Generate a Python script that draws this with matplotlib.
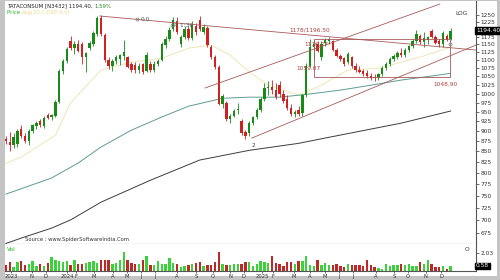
import matplotlib
matplotlib.use("Agg")
import matplotlib.pyplot as plt
from matplotlib.patches import Rectangle
from matplotlib.ticker import FixedLocator, NullLocator, FixedFormatter

# weekly candles, TATACONSUM
opens = [880, 872, 866, 868, 905, 888, 874, 900, 912, 925, 913, 942, 935,
         940, 978, 1066, 1098,
         1160, 1136, 1152, 1150, 1108, 1138,
         1152, 1185, 1238,
         1180, 1100, 1080, 1096, 1104, 1112, 1108, 1086, 1084, 1068, 1086, 1066, 1086, 1070, 1088,
         1100, 1146, 1166, 1200,
         1226, 1152, 1174, 1200, 1170, 1212, 1232, 1190, 1205,
         1142, 1110, 1078, 972,
         975, 930, 940, 955, 925, 898, 895, 920,
         935, 955, 985, 1015, 1020, 1010,
         1025, 1000, 985, 960, 945, 955,
         948, 995, 1082, 1140,
         1152, 1110, 1155, 1160, 1160,
         1132, 1112, 1105, 1092, 1108, 1082, 1070, 1066, 1060, 1052, 1048,
         1046, 1058, 1076, 1088, 1102, 1110, 1122, 1116, 1132, 1144,
         1160, 1178, 1156, 1162, 1195, 1172, 1160, 1150, 1176, 1168]
highs = [888, 897, 895, 904, 915, 895, 905, 918, 926, 930, 940, 948, 945,
         982, 1072, 1102, 1140,
         1178, 1160, 1162, 1158, 1126, 1160,
         1195, 1245, 1250,
         1186, 1110, 1102, 1116, 1118, 1162, 1112, 1092, 1094, 1090, 1090, 1126, 1096, 1096, 1102,
         1156, 1176, 1206, 1242,
         1240, 1180, 1212, 1212, 1226, 1222, 1246, 1216, 1210,
         1146, 1116, 1084, 1000,
         980, 945, 958, 975, 932, 902, 925, 940,
         960, 990, 1030, 1035, 1040, 1030,
         1035, 1010, 995, 970, 955, 965,
         1000, 1090, 1168, 1165,
         1160, 1160, 1170, 1175, 1165,
         1138, 1118, 1110, 1125, 1112, 1090, 1082, 1072, 1068, 1060, 1058,
         1060, 1080, 1094, 1110, 1118, 1128, 1136, 1138, 1148, 1168,
         1196, 1184, 1190, 1176, 1200, 1180, 1168, 1192, 1182, 1205]
lows = [868, 850, 858, 860, 882, 870, 866, 894, 905, 910, 908, 930, 928,
        935, 974, 1058, 1090,
        1132, 1118, 1124, 1088, 1062, 1130,
        1145, 1178, 1178,
        1092, 1072, 1066, 1088, 1085, 1100, 1074, 1064, 1060, 1060, 1056, 1062, 1064, 1064, 1080,
        1095, 1136, 1160, 1194,
        1184, 1140, 1168, 1164, 1165, 1180, 1192, 1182, 1140,
        1104, 1072, 968, 960,
        925, 920, 935, 945, 890, 880, 888, 915,
        930, 950, 980, 995, 1000, 985,
        990, 975, 955, 940, 935, 940,
        940, 990, 1078, 1100,
        1124, 1100, 1145, 1150, 1128,
        1108, 1098, 1082, 1088, 1076, 1064, 1060, 1052, 1044, 1040, 1036,
        1040, 1052, 1068, 1082, 1096, 1104, 1110, 1110, 1124, 1138,
        1154, 1150, 1140, 1152, 1170, 1150, 1142, 1140, 1160, 1162]
closes = [874, 866, 885, 900, 887, 876, 901, 914, 921, 914, 934, 934, 941,
          977, 1066, 1096, 1133,
          1138, 1152, 1128, 1108, 1122, 1153,
          1186, 1238, 1184,
          1100, 1080, 1096, 1108, 1114, 1126, 1078, 1070, 1068, 1082, 1064, 1116, 1070, 1088, 1096,
          1150, 1168, 1198, 1232,
          1190, 1172, 1200, 1170, 1215, 1190, 1200, 1206, 1148,
          1110, 1078, 972, 992,
          930, 938, 952, 958, 895, 886, 920, 935,
          955, 985, 1015, 1020, 1010, 990,
          1000, 980, 960, 945, 950, 945,
          995, 1082, 1140, 1152,
          1128, 1152, 1164, 1166, 1132,
          1112, 1102, 1086, 1118, 1080, 1068, 1064, 1058, 1050, 1046, 1044,
          1056, 1076, 1088, 1102, 1112, 1122, 1116, 1132, 1144, 1160,
          1182, 1156, 1170, 1172, 1175, 1155, 1150, 1186, 1165, 1194.4]
volumes = [0.65, 1.03, 0.46, 1.03, 1.11, 0.65, 0.84, 1.15, 0.57, 0.84, 0.57, 0.92, 1.60,
           1.22, 1.15, 1.03, 1.15, 0.73, 1.30, 0.76, 0.76, 0.92, 1.03, 1.15, 0.95, 1.22,
           1.30, 1.30, 0.76, 0.92, 1.30, 2.18, 1.22, 0.92, 0.84, 0.84, 1.30, 1.68, 0.65,
           0.73, 1.15, 0.84, 0.84, 1.49, 0.92, 0.84, 0.46, 0.53, 0.65, 0.76, 0.95, 1.03,
           0.57, 0.65, 0.73, 1.03, 2.18, 0.84, 0.65, 0.73, 0.84, 0.84, 0.84, 1.03,
           1.03, 0.53, 0.84, 1.15, 1.03, 0.92, 1.68, 0.92, 0.84, 0.53, 1.03, 1.03, 0.84,
           1.11, 1.15, 1.76, 0.73, 0.53, 1.22, 0.73, 0.92, 0.73, 0.65, 0.84, 0.53, 0.46,
           0.76, 0.65, 0.73, 0.65, 0.53, 1.22, 0.65, 0.46, 0.34, 0.27, 0.76, 0.53, 0.65,
           0.73, 0.84, 0.65, 0.84, 0.53, 0.53, 1.03, 0.84, 1.22, 0.84, 0.46, 0.46, 0.53,
           0.27, 0.58]

# moving averages read at sample weeks
ema_short_at = [0, 4, 13, 17, 25, 33, 41, 48, 54, 59, 64, 69, 77, 83, 90, 98, 109, 117]
ema_short = [821, 836, 889, 974, 1069, 1093, 1105, 1137, 1147, 1115, 1063, 1024, 996,
             1024, 1069, 1074, 1109, 1140]
ema_mid_at = [0, 12, 19, 25, 33, 41, 48, 57, 64, 72, 80, 88, 96, 104, 112, 117]
ema_mid = [753, 788, 822, 860, 902, 936, 965, 987, 990, 990, 999, 1010, 1024, 1039,
           1051, 1059]
ema_long_at = [0, 4, 12, 17, 25, 38, 51, 64, 77, 85, 104, 117]
ema_long = [655, 665, 684, 700, 736, 783, 829, 852, 869, 884, 920, 952]

# drawn studies: (week, price) end points
resist_line = [(24.7, 1245), (123.7, 1131)]
chan_upper = [(52.4, 1016), (114.2, 1288)]
chan_lower = [(64.7, 882), (123.7, 1147)]
box_weeks = (81, 116.8)
box_prices = (1048.9, 1166)
marks = [(34.6, 1234), (43.6, 1213), (116.8, 1150)]

month_pos = [1.3, 6.8, 10.5, 16.1, 18.4, 23.2, 28.2, 31.8, 35.5, 39.2, 45, 50, 54.5,
             59, 62.6, 67.4, 70.3, 75.8, 80, 83.9, 87.6, 91.3, 97.4, 102.1, 105.8,
             110.5, 114.5]
month_lbl = ["2023", "N", "D", "2024", "F", "M", "A", "M", "J", "J", "A", "S", "O",
             "N", "D", "2025", "F", "M", "A", "M", "J", "J", "A", "S", "O", "N", "D"]
price_ticks = [675, 700, 725, 750, 775, 800, 825, 850, 875, 900, 925, 950, 975, 1000,
               1025, 1050, 1075, 1100, 1125, 1150, 1175, 1225, 1250]

W, H = 500, 280
UP, DN = "#168c16", "#d02020"
VUP, VDN = "#3ad23a", "#c02828"
LINE = "#a85a5a"


def fx(x):
    return x / W


def fy(y):
    return 1 - y / H


fig = plt.figure(figsize=(W / 100, H / 100), dpi=100)
fig.patch.set_facecolor("#c4c4c4")
fig.patches.append(Rectangle((fx(5), fy(276)), fx(497) - fx(5), fy(1) - fy(276),
                             transform=fig.transFigure, facecolor="white",
                             edgecolor="none", zorder=-5))

ax = fig.add_axes([fx(5), fy(244), fx(476) - fx(5), fy(1) - fy(244)])
axv = fig.add_axes([fx(5), fy(271), fx(476) - fx(5), fy(244) - fy(271)], sharex=ax)

n = len(closes)
idx = list(range(n))
for i in idx:
    up = closes[i] >= opens[i]
    col = UP if up else DN
    ax.vlines(i, lows[i], highs[i], color=col, lw=0.6, zorder=3)
    ax.bar(i, abs(closes[i] - opens[i]) or 1, bottom=min(opens[i], closes[i]),
           width=0.62, color=col, zorder=4, linewidth=0)
    axv.bar(i, volumes[i], width=0.62, color=VUP if up else VDN, linewidth=0)

ax.plot(ema_short_at, ema_short, color="#f0e6b4", lw=0.7, zorder=2)
ax.plot(ema_mid_at, ema_mid, color="#5e9c94", lw=0.7, zorder=2)
ax.plot(ema_long_at, ema_long, color="#3c3c3c", lw=0.7, zorder=2)

for line in (resist_line, chan_upper, chan_lower):
    xs, ys = zip(*line)
    ax.plot(xs, ys, color=LINE, lw=0.6, zorder=5)
ax.add_patch(Rectangle((box_weeks[0], box_prices[0]), box_weeks[1] - box_weeks[0],
                       box_prices[1] - box_prices[0], fill=False, edgecolor=LINE,
                       lw=0.6, zorder=5))
mx, my = zip(*marks)
ax.plot(mx, my, ls="none", marker="o", ms=2.2, mfc="none", mec="#777777", mew=0.5,
        zorder=6)

fs = 4.2
ax.text(35.5, 1233, "0.0", fontsize=fs, color="#555555", va="center", zorder=6)
ax.text(44.2, 1212, "R 1:36", fontsize=fs, color="#555555", va="center", zorder=6)
ax.text(65, 870, "2", fontsize=fs, color="#444444", ha="center", va="top", zorder=6)
ax.text(74.5, 1196, "1178/1196.50", fontsize=fs, color="#b04040", va="center", zorder=6)
ax.text(78.5, 1150, "1176.27", fontsize=fs, color="#b04040", va="center", zorder=6)
ax.text(76.5, 1075, "1059.07", fontsize=fs, color="#b04040", va="center", zorder=6)
ax.text(112.5, 1027, "1048.90", fontsize=fs, color="#b04040", va="center", zorder=6)

ax.set_yscale("log")
ax.set_ylim(654, 1299)
ax.set_xlim(-0.26, 123.7)
ax.yaxis.set_major_locator(FixedLocator(price_ticks))
ax.yaxis.set_major_formatter(FixedFormatter([str(p) for p in price_ticks]))
ax.yaxis.set_minor_locator(NullLocator())
ax.yaxis.tick_right()
ax.tick_params(axis="y", labelsize=fs, length=2, width=0.5, pad=1, colors="#333333")
ax.tick_params(axis="x", bottom=False, labelbottom=False)
ax.text(1.0, closes[-1], f"{closes[-1]:.2f}", transform=ax.get_yaxis_transform(),
        fontsize=fs, color="white", va="center", ha="left", clip_on=False, zorder=10,
        bbox=dict(boxstyle="square,pad=0.15", fc="black", ec="black"))
ax.text(0.982, 1253, "LOG", fontsize=fs, color="#333333", ha="right", va="center",
        transform=ax.get_yaxis_transform())

axv.set_ylim(0, 3.1)
axv.yaxis.tick_right()
axv.set_yticks([2.03])
axv.set_yticklabels(["2.03"])
axv.tick_params(axis="y", labelsize=fs, length=2, width=0.5, pad=1, colors="#333333")
axv.set_xticks(month_pos)
axv.set_xticklabels(month_lbl)
axv.tick_params(axis="x", labelsize=fs - 0.4, length=1.5, width=0.5, pad=0.5,
                colors="#333333")
axv.text(1.0, volumes[-1], f"{volumes[-1]:.2f}", transform=axv.get_yaxis_transform(),
         fontsize=fs, color="white", va="center", ha="left", clip_on=False, zorder=10,
         bbox=dict(boxstyle="square,pad=0.15", fc="black", ec="black"))
axv.text(0.005, 0.9, "Vol", transform=axv.transAxes, fontsize=fs, color="#22bb22",
         va="top")
axv.text(0.985, 0.88, "O", transform=axv.transAxes, fontsize=fs, color="#333333",
         va="top", ha="right")

for a in (ax, axv):
    for s in ("top", "left"):
        a.spines[s].set_visible(False)
    for s in ("right", "bottom"):
        a.spines[s].set_color("#555555")
        a.spines[s].set_linewidth(0.8)

t1 = fig.text(fx(7), fy(6), "TATACONSUM [N3432] 1194.40, ", fontsize=fs - 0.3,
              color="#222222", va="center")
ax.annotate("1.59%", xy=(1, 0.5), xycoords=t1, fontsize=fs - 0.3, color="#228822",
            va="center", annotation_clip=False)
t2 = fig.text(fx(7), fy(12.5), "Price ", fontsize=fs - 0.3, color="#22bb22", va="center")
ax.annotate("Avg(20,C,EXP,0,0)", xy=(1, 0.5), xycoords=t2, fontsize=fs - 0.3,
            color="#e8dc90", va="center", annotation_clip=False)
fig.text(fx(25), fy(240), "Source : www.SpiderSoftwareIndia.Com", fontsize=fs - 0.4,
         color="#333333", va="center")

fig.savefig("out.png", dpi=100, facecolor=fig.get_facecolor())
